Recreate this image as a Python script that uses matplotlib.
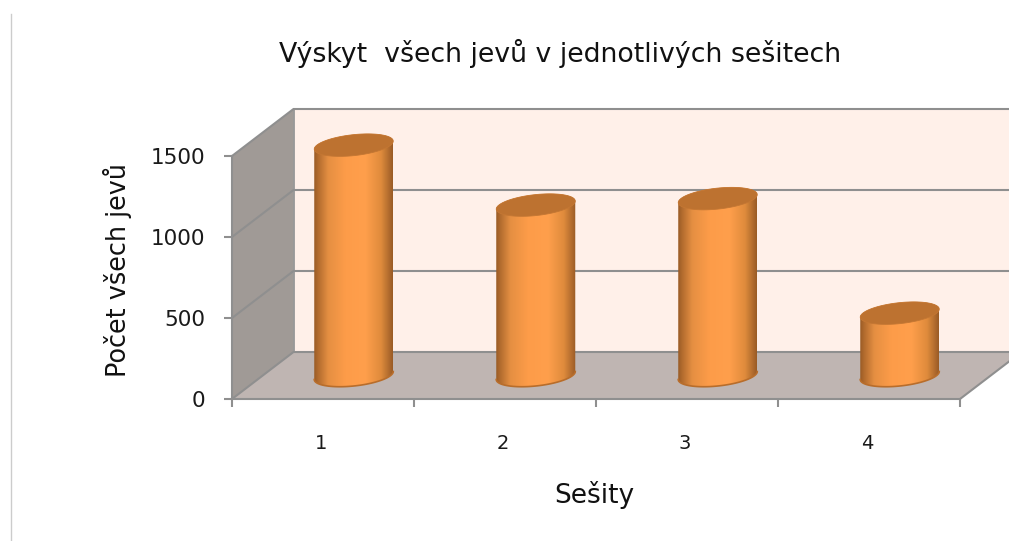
import numpy as np
import matplotlib
matplotlib.use("Agg")
import matplotlib.pyplot as plt
from matplotlib.colors import LinearSegmentedColormap
from matplotlib.patches import Polygon

categories = ["1", "2", "3", "4"]
values = [1422, 1052, 1092, 385]
y_ticks = [0, 500, 1000, 1500]
title = "Výskyt  všech jevů v jednotlivých sešitech"
xlabel = "Sešity"
ylabel = "Počet všech jevů"

W, H = 1009, 541
L, R, B, T = 232, 960, 399, 156
plt.rcParams["font.family"] = ["DejaVu Sans"]

fig = plt.figure(figsize=(W / 100, H / 100), dpi=100, facecolor="white")
ax = fig.add_axes([L / W, 1 - B / H, (R - L) / W, (B - T) / H])
ax.set_xlim(0.5, 4.5)
ax.set_ylim(0, 1500)
ax.set_facecolor("none")

px_x = (R - L) / 4
px_y = (B - T) / 1500
DX, DY = 61.5 / px_x, 47 / px_y
x0, x1, y0, y1 = 0.5, 4.5, 0, 1500
LINE = "#8f8f8f"

def poly(pts, color, z):
    ax.add_patch(Polygon(pts, closed=True, fc=color, ec="none", zorder=z, clip_on=False))

poly([(x0 + DX, y0 + DY), (x1 + DX, y0 + DY), (x1 + DX, y1 + DY), (x0 + DX, y1 + DY)], "#fff0e9", 1)
poly([(x0, y0), (x1, y0), (x1 + DX, y0 + DY), (x0 + DX, y0 + DY)], "#bfb5b2", 1)
poly([(x0, y0), (x0 + DX, y0 + DY), (x0 + DX, y1 + DY), (x0, y1)], "#a09a96", 1)

for v in y_ticks:
    ax.plot([x0, x0 + DX, x1 + DX], [v, v + DY, v + DY], color=LINE, lw=1.5, zorder=2, clip_on=False)
ax.plot([x0 + DX, x0 + DX], [y0 + DY, y1 + DY], color=LINE, lw=1.2, zorder=2, clip_on=False)
ax.plot([x1, x1 + DX], [y0, y0 + DY], color=LINE, lw=1.5, zorder=2, clip_on=False)

# left border rule of the page
fig.add_artist(plt.Line2D([10.5 / W, 10.5 / W], [0, 1 - 14 / H], color="#cccccc", lw=1))

# cylinders
cmap = LinearSegmentedColormap.from_list("cyl", [
    (0.00, "#995b25"), (0.04, "#ad682c"), (0.18, "#e58f42"), (0.40, "#fd9c49"),
    (0.65, "#ff9f4c"), (0.85, "#df8b3c"), (0.97, "#a8652b"), (1.00, "#995b25")])
rx = 39.5 / px_x
ry = 10.5 / px_y
k = 4.0 / px_y
t = np.linspace(0, 2 * np.pi, 121)
grad = np.linspace(0, 1, 256)[None, :]

for i, v in enumerate(values):
    cx = i + 1 + DX / 2
    cy = DY / 2
    ex = cx + rx * np.cos(t)
    ey = ry * np.sin(t) + k * np.cos(t)
    tb = np.linspace(np.pi, 2 * np.pi, 61)
    bx = cx + rx * np.cos(tb)
    by = cy + ry * np.sin(tb) + k * np.cos(tb)
    tt = np.linspace(0, np.pi, 61)
    ux = cx + rx * np.cos(tt)
    uy = cy + v + ry * np.sin(tt) + k * np.cos(tt)
    body = Polygon(np.column_stack([np.r_[bx, ux], np.r_[by, uy]]), closed=True,
                   fc="none", ec="none", transform=ax.transData)
    ax.add_patch(body)
    body.set_clip_on(False)
    ax.plot(bx, by, color="#b86d2b", lw=1.2, zorder=4)
    im = ax.imshow(grad, cmap=cmap, extent=(cx - rx, cx + rx, cy - 2 * ry, cy + v + 2 * ry),
                   aspect="auto", zorder=3.5, interpolation="bilinear")
    im.set_clip_path(body)
    im.set_clip_box(fig.bbox)
    ax.fill(ex, cy + v + ey, fc="#bd7230", ec="#c47733", lw=0.6, zorder=5, clip_on=False)

ax.set_xlim(0.5, 4.5)
ax.set_ylim(0, 1500)

for s in ("top", "right"):
    ax.spines[s].set_visible(False)
for s in ("left", "bottom"):
    ax.spines[s].set_color(LINE)
    ax.spines[s].set_linewidth(1.5)
    ax.spines[s].set_zorder(6)

ax.set_xticks(np.arange(0.5, 5.0, 1.0))
ax.set_xticklabels([])
ax.set_xticks(np.arange(1, 5) - 0.01, labels=categories, minor=True)
ax.set_yticks(y_ticks, labels=[str(v) for v in y_ticks])
ax.tick_params(axis="x", which="major", length=6, width=1.5, color=LINE)
ax.tick_params(axis="x", which="minor", length=0, pad=25, labelsize=14, labelcolor="#1a1a1a")
ax.tick_params(axis="y", length=6, width=1.5, color=LINE, pad=13, labelsize=15.5, labelcolor="#1a1a1a")

ax.set_title(title, x=(560 - L) / (R - L), y=(B - 62) / (B - T), va="center", ha="center",
             fontsize=19.3, color="#111111")
ax.text((594 - L) / (R - L), (B - 495) / (B - T), xlabel, transform=ax.transAxes, ha="center",
        va="center", fontsize=19, color="#111111", clip_on=False)
ax.text((118 - L) / (R - L), (B - 270) / (B - T), ylabel, transform=ax.transAxes, ha="center",
        va="center", rotation=90, fontsize=18.4, color="#111111", clip_on=False)

fig.savefig("out.png", dpi=100)
